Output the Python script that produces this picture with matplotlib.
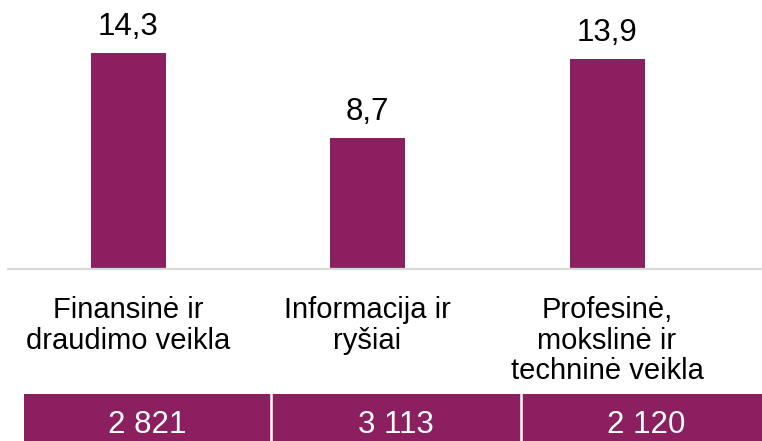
import matplotlib
matplotlib.use("Agg")
import matplotlib.pyplot as plt
from matplotlib.patches import Rectangle
import matplotlib.transforms as mtransforms

categories = ["Finansinė ir\ndraudimo veikla", "Informacija ir\nryšiai", "Profesinė,\nmokslinė ir\ntechninė veikla"]
values = [14.3, 8.7, 13.9]
value_labels = ["14,3", "8,7", "13,9"]
table_values = ["2 821", "3 113", "2 120"]

BAR = "#8B1F5F"
W, H = 762, 441
fig = plt.figure(figsize=(W / 100, H / 100), dpi=100)
plt.rcParams['font.family'] = ['Liberation Sans', 'DejaVu Sans']

def fx(px):
    return px / W

def fy(py):
    return 1 - py / H

base_y = 269
ax = fig.add_axes([fx(8), fy(base_y), fx(762) - fx(8), fy(0) - fy(base_y)])
x = list(range(len(values)))
ax.bar(x, values, width=75 / 239.5, color=BAR, zorder=2)
ax.set_xlim((8 - 128) / 239.5, (762 - 128) / 239.5)
ax.set_ylim(0, base_y / 15.1)
ax.axhline(0, color="#D9D9D9", lw=1.6, zorder=3, clip_on=False)
for s in ax.spines.values():
    s.set_visible(False)
ax.set_xticks([])
ax.set_yticks([])
ax.patch.set_alpha(0)

for xi, v, lab in zip(x, values, value_labels):
    ax.annotate(lab, (xi, v), xytext=(0, 13), textcoords="offset points",
                ha="center", va="baseline", fontsize=22.5, color="black")

trans = mtransforms.blended_transform_factory(ax.transData, fig.transFigure)
for xi, cat in zip(x, categories):
    ax.text(xi, fy(296), cat, transform=trans, ha="center", va="top",
            fontsize=21, color="black", linespacing=1.12)

# table
edges = [24, 271, 521, 771]
top = 394
for i, tv in enumerate(table_values):
    x0, x1 = edges[i], edges[i + 1]
    fig.patches.append(Rectangle((fx(x0), 0), fx(x1 - x0), fy(top), transform=fig.transFigure,
                                 facecolor=BAR, edgecolor="none", zorder=1))
    fig.text(fx((x0 + x1) / 2), fy(433), tv, ha="center", va="baseline",
             fontsize=22.5, color="white", zorder=3)
for xe in edges[1:-1]:
    fig.lines.append(plt.Line2D([fx(xe), fx(xe)], [0, fy(top)], transform=fig.transFigure,
                                color="white", lw=1.8, zorder=2))

fig.savefig("out.png", dpi=100)
